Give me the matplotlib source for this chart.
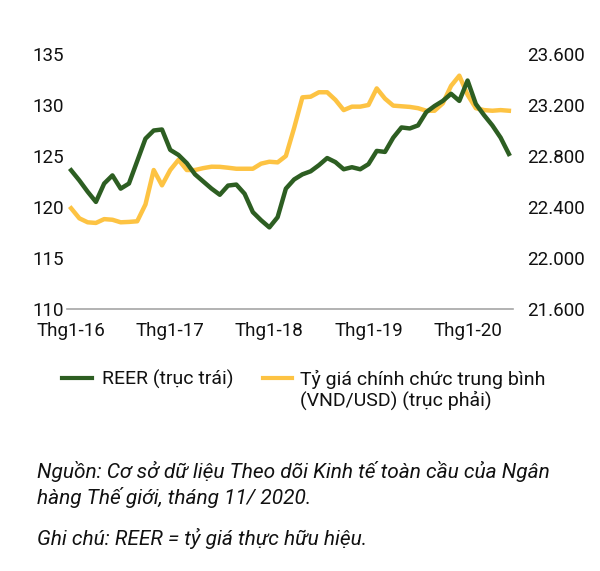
import matplotlib
matplotlib.use("Agg")
import matplotlib.pyplot as plt
from matplotlib.lines import Line2D

plt.rcParams['font.family'] = ['Roboto', 'DejaVu Sans']

# Monthly data, Jan 2016 .. Jun 2020
months = list(range(54))
tick_pos = [0, 12, 24, 36, 48]
tick_labels = ["Thg1-16", "Thg1-17", "Thg1-18", "Thg1-19", "Thg1-20"]

reer = [123.6, 122.6, 121.5, 120.5, 122.3, 123.1, 121.8, 122.3, 124.5, 126.7,
        127.5, 127.6, 125.6, 125.1, 124.3, 123.2, 122.5, 121.8, 121.2, 122.1,
        122.2, 121.3, 119.5, 118.7, 118.0, 119.0, 121.8, 122.7, 123.2, 123.5,
        124.1, 124.8, 124.4, 123.7, 123.9, 123.7, 124.2, 125.5, 125.4, 126.8,
        127.8, 127.7, 128.0, 129.3, 129.9, 130.4, 131.1, 130.4, 132.4, 130.1,
        129.0, 128.0, 126.8, 125.2]

vnd_usd = [22390, 22311, 22280, 22275, 22305, 22300, 22280, 22283, 22288, 22420,
           22690, 22570, 22690, 22770, 22690, 22690, 22705, 22716, 22715, 22708,
           22700, 22700, 22700, 22740, 22755, 22750, 22800, 23020, 23260, 23265,
           23300, 23300, 23240, 23160, 23187, 23187, 23200, 23330, 23250, 23195,
           23190, 23185, 23175, 23155, 23155, 23213, 23350, 23430, 23280, 23175,
           23160, 23155, 23160, 23155]

left_ticks = [110, 115, 120, 125, 130, 135]
right_ticks = [21600, 22000, 22400, 22800, 23200, 23600]
right_tick_labels = ["21.600", "22.000", "22.400", "22.800", "23.200", "23.600"]

GREEN = "#2d5e22"
YELLOW = "#fdc343"

W, H = 600, 571
fig = plt.figure(figsize=(W / 100, H / 100), dpi=100)
ax = fig.add_axes([67 / W, 1 - 309 / H, (513 - 67) / W, (309 - 54) / H])
ax2 = ax.twinx()

ax.plot(months, reer, color=GREEN, lw=3.2, solid_joinstyle='round', zorder=3)
ax2.plot(months, vnd_usd, color=YELLOW, lw=3.2, solid_joinstyle='round', zorder=2)
ax.set_zorder(ax2.get_zorder() + 1)
ax.patch.set_visible(False)

ax.set_xlim(-0.5, 53.5)
ax.set_ylim(110, 135)
ax2.set_ylim(21600, 23600)
ax.set_yticks(left_ticks)
ax.set_yticklabels([str(t) for t in left_ticks])
ax2.set_yticks(right_ticks)
ax2.set_yticklabels(right_tick_labels)
ax.set_xticks(tick_pos)
ax.set_xticklabels(tick_labels)

for a in (ax, ax2):
    for s in a.spines.values():
        s.set_visible(False)
ax.spines['bottom'].set_visible(True)
ax.spines['bottom'].set_color('#a6a6a6')
ax.spines['bottom'].set_linewidth(1.2)

ax.tick_params(axis='y', length=0, pad=2, labelsize=13.5, labelcolor='#111111')
ax2.tick_params(axis='y', length=0, pad=10, labelsize=13.5, labelcolor='#111111')
ax.tick_params(axis='x', length=0, pad=9, labelsize=13.5, labelcolor='#111111')

# Legend (drawn in figure pixel coords)
def fx(x):
    return x / W

def fy(y):
    return 1 - y / H

fig.add_artist(Line2D([fx(62), fx(92)], [fy(378), fy(378)], color=GREEN, lw=3.0))
fig.text(fx(102), fy(385), "REER (trục trái)", fontsize=14, color='#111111', va='baseline')
fig.add_artist(Line2D([fx(263), fx(292)], [fy(378), fy(378)], color=YELLOW, lw=3.0))
fig.text(fx(300), fy(385), "Tỷ giá chính chức trung bình", fontsize=14, color='#111111', va='baseline')
fig.text(fx(300), fy(406), "(VND/USD) (trục phải)", fontsize=14, color='#111111', va='baseline')

# Footnotes
fig.text(fx(37), fy(478), "Nguồn: Cơ sở dữ liệu Theo dõi Kinh tế toàn cầu của Ngân",
         fontsize=15, style='italic', color='#111111', va='baseline')
fig.text(fx(37), fy(504), "hàng Thế giới, tháng 11/ 2020.",
         fontsize=15, style='italic', color='#111111', va='baseline')
fig.text(fx(37), fy(545), "Ghi chú: REER = tỷ giá thực hữu hiệu.",
         fontsize=15, style='italic', color='#111111', va='baseline')

fig.savefig("out.png", dpi=100)
